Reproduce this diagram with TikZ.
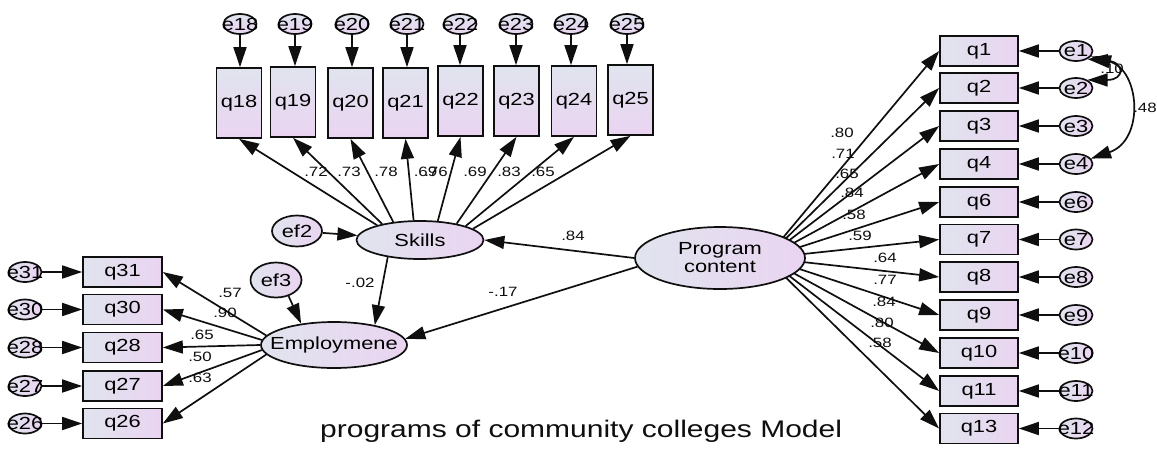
\documentclass[tikz,border=0pt]{standalone}
\usepackage{fontspec}
\setmainfont{Liberation Sans}[FakeStretch=1.25]
\usetikzlibrary{arrows.meta,shapes.geometric}
\pgfdeclarelayer{bgl}
\pgfdeclarelayer{back}
\pgfsetlayers{bgl,back,main}
\definecolor{cA}{RGB}{224,228,238}
\definecolor{cB}{RGB}{234,212,241}
\definecolor{ln}{RGB}{15,15,15}
\newcommand\fsz[1]{\fontsize{#1}{18}\selectfont}
\newcommand\zw[1]{\makebox[0pt]{#1}}
\begin{document}
\begin{tikzpicture}[x=1pt,y=-1pt,
  hbox/.style={draw=ln, line width=1.7pt, left color=cA, right color=cB, minimum width=78pt, minimum height=30pt, inner sep=0pt, font=\fsz{17.5}},
  vbox/.style={draw=ln, line width=1.7pt, top color=cA, bottom color=cB, minimum width=45pt, minimum height=70pt, inner sep=0pt, font=\fsz{17.5}},
  lbox/.style={hbox, minimum width=79pt},
  err/.style={ellipse, draw=ln, line width=1.7pt, left color=cA, right color=cB, minimum width=33pt, minimum height=20pt, inner sep=0pt, font=\fsz{17.5}},
  terr/.style={err, top color=cA, bottom color=cB},
  lat/.style={ellipse, draw=ln, line width=1.7pt, left color=cA, right color=cB, inner sep=0pt, font=\fsz{17.5}, align=center},
  arr/.style={line width=1.7pt, draw=ln, -{Triangle[length=20pt,width=13pt]}},
  cov/.style={line width=1.7pt, draw=ln, {Triangle[length=20pt,width=13pt]}-{Triangle[length=20pt,width=13pt]}},
  ld/.style={font=\fsz{13.5}, inner sep=0pt, text=ln},
]
\useasboundingbox (0,0) rectangle (1157,448);
\begin{pgfonlayer}{bgl}
\fill[white] (0,0) rectangle (1157,448);
\end{pgfonlayer}

% latent variables
\node[lat, minimum width=127pt, minimum height=38pt] (skills) at (420,240) {Skills};
\node[lat, minimum width=146pt, minimum height=46pt] (emp) at (334,345) {\zw{Employmene}};
\node[lat, minimum width=170pt, minimum height=62pt] (prog) at (720,258) {Program\\content};
\node[lat, minimum width=50pt, minimum height=31pt] (ef2) at (297,231) {ef2};
\node[lat, minimum width=51pt, minimum height=35pt] (ef3) at (276,280) {ef3};

% top indicators (Skills)
\foreach \n/\x/\y/\ex/\a in {18/239/103/240/161, 19/293/102/295/157, 20/350.5/103/352/146, 21/405.5/103/407/108, 22/460.5/101/460/47, 23/516.5/101/516/24, 24/574/101/571/17, 25/630.5/100/627/12} {
  \node[vbox] (q\n) at (\x,\y) {q\n};
  \node[terr] (e\n) at (\ex,24) {\zw{e\n}};
  \begin{pgfonlayer}{back}
  \draw[arr] (e\n.south) -- (e\n.south |- q\n.north);
  \draw[arr] (skills.\a) -- (q\n.south);
  \end{pgfonlayer}
}

% left indicators (Employmene)
\foreach \n/\y/\a in {31/272/172, 30/309.5/176, 28/347.5/180, 27/386/184, 26/423.5/188} {
  \node[lbox] (q\n) at (122.5,\y) {q\n};
  \node[err] (e\n) at (25,\y) {\zw{e\n}};
  \begin{pgfonlayer}{back}
  \draw[arr] (e\n) -- (q\n.west);
  \draw[arr] (emp.\a) -- (q\n.east);
  \end{pgfonlayer}
}

% right indicators (Program content)
\foreach \n/\y/\e in {1/51/1, 2/88/2, 3/126/3, 4/164/4, 6/202/6, 7/239.5/7, 8/277/8, 9/315/9, 10/353/10, 11/391/11, 13/428.5/12} {
  \node[hbox] (q\n) at (979,\y) {q\n};
  \node[err] (e\e) at (1076,\y) {\zw{e\e}};
  \begin{pgfonlayer}{back}
  \draw[arr] (e\e) -- (q\n.east);
  \draw[arr] ([xshift=46pt]prog.center) -- (q\n.west);
  \end{pgfonlayer}
}

% structural paths
\begin{pgfonlayer}{back}
\draw[arr] (ef2) -- (skills);
\draw[arr] (ef3.-52) -- (emp.147);
\draw[arr] (skills.208) -- (emp.26);
\draw[arr] (prog.180) -- (skills.east);
\draw[arr] (prog.186) -- (emp.5);
\end{pgfonlayer}

% covariance labels (drawn under the curves)
\node[ld, anchor=east] (c12) at (1124,69) {.10};
\node[ld] (c14) at (1145,108) {.48};
\draw[cov] (e1.-35) .. controls (1125,62) and (1125,80) .. (e2.35);
\draw[cov] (e1.-20) .. controls (1140,70) and (1145,140) .. (e4.20);

% loading labels: Skills
\node[ld] (l18) at (316,172) {.72};
\node[ld] (l19) at (349,172) {.73};
\node[ld] (l20) at (386,172) {.78};
\node[ld] (l21) at (425.5,172) {.69};
\node[ld] (l22) at (436,172) {.76};
\node[ld] (l23) at (475,172) {.69};
\node[ld] (l24) at (509,172) {.83};
\node[ld] (l25) at (543,172) {.65};

% loading labels: Employmene
\node[ld] (l31) at (230,293) {.57};
\node[ld] (l30) at (225,313) {.90};
\node[ld] (l28) at (202,335) {.65};
\node[ld] (l27) at (200,357) {.50};
\node[ld] (l26) at (200,378) {.63};

% structural labels
\node[ld] (lps) at (573,236) {.84};
\node[ld] (lpe) at (503,292) {-.17};
\node[ld] (lse) at (360,283) {-.02};

% loading labels: Program content
\node[ld] (l1) at (842,133) {.80};
\node[ld] (l2) at (843,154) {.71};
\node[ld] (l3) at (847,174) {.65};
\node[ld] (l4) at (852,193) {.84};
\node[ld] (l6) at (854,215) {.58};
\node[ld] (l7) at (860,236) {.59};
\node[ld] (l8) at (885,258) {.64};
\node[ld] (l9) at (885,280) {.77};
\node[ld] (l10) at (884,302) {.84};
\node[ld] (l11) at (882,323) {.80};
\node[ld] (l13) at (880,343) {.58};

% title
\node[anchor=base west, inner sep=0pt, font=\fsz{24}, text=ln] (title) at (320,437) {programs of community colleges Model};
\end{tikzpicture}
\end{document}
